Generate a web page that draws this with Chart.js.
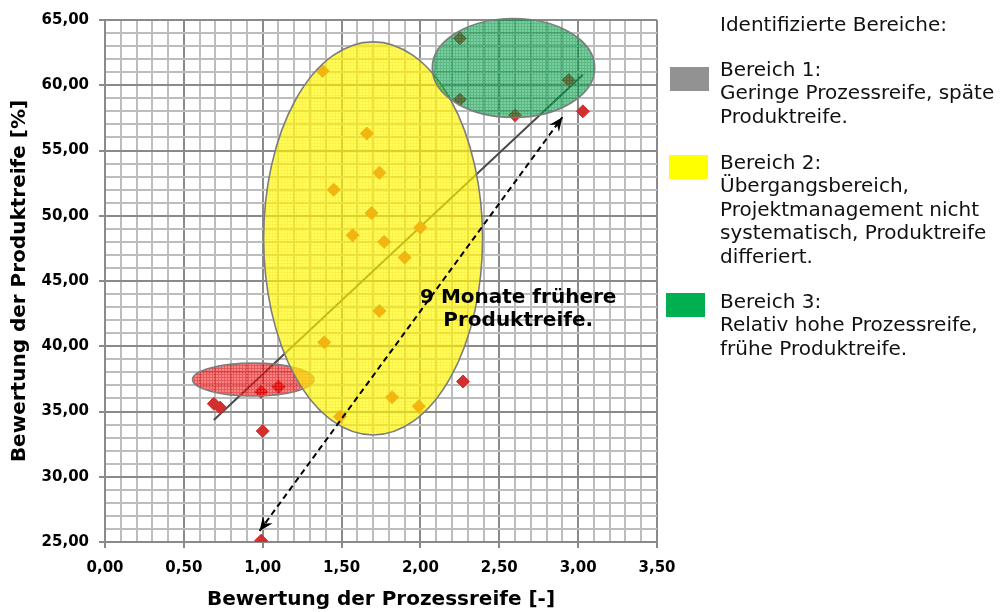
<!DOCTYPE html>
<html>
<head>
<meta charset="utf-8">
<title>Prozessreife vs. Produktreife</title>
<script src="https://cdn.jsdelivr.net/npm/chart.js@4.4.1/dist/chart.umd.min.js"></script>
<style>
  body { margin: 0; background: #fff; }
  #wrap { position: relative; width: 1003px; height: 612px; }
  .leg-text { position: absolute; left: 720px; font-family: 'DejaVu Sans', sans-serif; font-size: 20px; line-height: 23.4px; color: #111; white-space: nowrap; }
  .leg-box { position: absolute; }
</style>
</head>
<body>
<div id="wrap">
  <canvas id="chart" width="1003" height="612"></canvas>
</div>
<script>
// measured projects: process maturity (x) vs product maturity (y)
const prozessreife = [1.38, 1.66, 1.74, 1.45, 1.69, 1.57, 1.77, 2.00, 1.90, 1.74, 1.39, 2.27, 1.99, 1.82, 1.49,
                      1.10, 0.99, 0.69, 0.73, 1.00, 0.99, 2.25, 2.25, 2.60, 2.94, 3.03];
const produktreife = [61.1, 56.3, 53.3, 52.0, 50.2, 48.5, 48.0, 49.1, 46.8, 42.7, 40.3, 37.3, 35.4, 36.1, 34.6,
                      36.9, 36.5, 35.6, 35.3, 33.5, 25.1, 63.6, 58.9, 57.7, 60.4, 58.0];

// trend line and the "9 Monate" arrow (start, end)
const trendX = [0.69, 3.03];
const trendY = [34.35, 60.8];
const arrowX = [0.98, 2.90];
const arrowY = [25.85, 57.55];

// identified regions (ellipses): red, yellow, green
const ellipseCx = [0.94, 1.70, 2.59];
const ellipseCy = [37.45, 48.26, 61.32];
const ellipseRx = [0.385, 0.694, 0.515];
const ellipseRy = [1.26, 15.06, 3.79];

// axes
const xMajorTicks = [0, 0.5, 1, 1.5, 2, 2.5, 3, 3.5];
const xTickLabels = ['0,00', '0,50', '1,00', '1,50', '2,00', '2,50', '3,00', '3,50'];
const yMajorTicks = [25, 30, 35, 40, 45, 50, 55, 60, 65];
const yTickLabels = ['25,00', '30,00', '35,00', '40,00', '45,00', '50,00', '55,00', '60,00', '65,00'];
const xTitle = 'Bewertung der Prozessreife [-]';
const yTitle = 'Bewertung der Produktreife [%]';

// annotation
const noteLines = ['9 Monate frühere', 'Produktreife.'];
const noteX = 2.62;
const noteY = [43.7, 41.93];

// legend
const legendTitle = 'Identifizierte Bereiche:';
const legendColors = ['#929292', '#ffff00', '#00b050'];
const legendLines = [
  ['Bereich 1:', 'Geringe Prozessreife, späte', 'Produktreife.'],
  ['Bereich 2:', 'Übergangsbereich,', 'Projektmanagement nicht', 'systematisch, Produktreife', 'differiert.'],
  ['Bereich 3:', 'Relativ hohe Prozessreife,', 'frühe Produktreife.']
];
const legendBoxLeft = [670, 669, 666];
const legendBoxTop = [67, 155, 293];
const legendTextTop = [58, 151, 290];

const wrap = document.getElementById('wrap');
function addDiv(cls, style, html) {
  const d = document.createElement('div');
  d.className = cls;
  Object.assign(d.style, style);
  d.innerHTML = html;
  wrap.appendChild(d);
}
addDiv('leg-text', { top: '13px' }, legendTitle);
legendLines.forEach((lines, i) => {
  addDiv('leg-box', { left: legendBoxLeft[i] + 'px', top: legendBoxTop[i] + 'px', width: '39px', height: '24px', background: legendColors[i] }, '');
  addDiv('leg-text', { top: legendTextTop[i] + 'px' }, lines.join('<br>'));
});

const isTick = (list, v) => list.findIndex(t => Math.abs(t - v) < 1e-6);
const majorColor = '#8a8a8a';
const minorColor = '#bdbdbd';

const canvas = document.getElementById('chart');
const ctx = canvas.getContext('2d');

// fine cross-hatched fill like the original shapes
function hatch(base, line) {
  const c = document.createElement('canvas');
  c.width = 3; c.height = 3;
  const g = c.getContext('2d');
  g.fillStyle = base; g.fillRect(0, 0, 2, 2);
  g.fillStyle = line; g.fillRect(0, 2, 3, 1); g.fillRect(2, 0, 1, 2);
  return ctx.createPattern(c, 'repeat');
}
const ellipseFills = [
  hatch('rgba(255,50,50,0.6)', 'rgba(220,0,0,0.65)'),
  hatch('rgba(255,255,0,0.64)', 'rgba(255,235,0,0.72)'),
  hatch('rgba(20,180,90,0.6)', 'rgba(0,135,60,0.62)')
];

function arrowHead(c, tx, ty, fx, fy) {
  const a = Math.atan2(ty - fy, tx - fx);
  const L = 14, W = 6;
  const bx = tx - L * Math.cos(a), by = ty - L * Math.sin(a);
  c.beginPath();
  c.moveTo(tx, ty);
  c.lineTo(bx + W * Math.sin(a), by - W * Math.cos(a));
  c.lineTo(tx - 0.65 * L * Math.cos(a), ty - 0.65 * L * Math.sin(a));
  c.lineTo(bx - W * Math.sin(a), by + W * Math.cos(a));
  c.closePath();
  c.fill();
}

const overlay = {
  id: 'overlay',
  afterDatasetDraw(chart, args) {
    if (args.index !== 1) return; // right after the points, before the arrow
    const c = chart.ctx;
    const { x, y } = chart.scales;
    c.save();
    ellipseCx.forEach((cx, i) => {
      const px = x.getPixelForValue(cx);
      const py = y.getPixelForValue(ellipseCy[i]);
      const rx = x.getPixelForValue(cx + ellipseRx[i]) - px;
      const ry = py - y.getPixelForValue(ellipseCy[i] + ellipseRy[i]);
      c.beginPath();
      c.ellipse(px, py, rx, ry, 0, 0, Math.PI * 2);
      c.fillStyle = ellipseFills[i];
      c.fill();
      c.lineWidth = 1.6;
      c.strokeStyle = '#7d7d7d';
      c.stroke();
    });
    c.font = 'bold 20px "DejaVu Sans"';
    c.fillStyle = '#000';
    c.textAlign = 'center';
    c.textBaseline = 'middle';
    noteLines.forEach((t, i) => c.fillText(t, x.getPixelForValue(noteX), y.getPixelForValue(noteY[i])));
    c.restore();
  },
  afterDatasetsDraw(chart) {
    const c = chart.ctx;
    const { x, y } = chart.scales;
    const p0 = [x.getPixelForValue(arrowX[0]), y.getPixelForValue(arrowY[0])];
    const p1 = [x.getPixelForValue(arrowX[1]), y.getPixelForValue(arrowY[1])];
    c.save();
    c.fillStyle = '#000';
    arrowHead(c, p0[0], p0[1], p1[0], p1[1]);
    arrowHead(c, p1[0], p1[1], p0[0], p0[1]);
    c.restore();
  }
};

const tickFont = { family: 'DejaVu Sans', weight: 'bold', size: 15 };
const titleFont = { family: 'DejaVu Sans', weight: 'bold', size: 20 };

new Chart(ctx, {
  type: 'scatter',
  data: {
    datasets: [
      {
        label: 'Pfeil',
        data: arrowX.map((v, i) => ({ x: v, y: arrowY[i] })),
        showLine: true,
        borderColor: '#000',
        borderWidth: 2,
        borderDash: [6, 4],
        pointRadius: 0
      },
      {
        label: 'Projekte',
        data: prozessreife.map((v, i) => ({ x: v, y: produktreife[i] })),
        pointStyle: 'rectRot',
        pointRadius: 6.5,
        backgroundColor: '#d32f2f',
        borderColor: '#d32f2f',
        borderWidth: 1
      },
      {
        label: 'Trend',
        data: trendX.map((v, i) => ({ x: v, y: trendY[i] })),
        showLine: true,
        borderColor: '#4a4a4a',
        borderWidth: 2,
        pointRadius: 0
      }
    ]
  },
  plugins: [overlay],
  options: {
    responsive: false,
    animation: false,
    layout: { padding: { top: 20, right: 346, left: 0, bottom: 0 } },
    plugins: { legend: { display: false }, tooltip: { enabled: false } },
    scales: {
      x: {
        type: 'linear',
        min: 0,
        max: 3.5,
        afterFit: s => { s.height = 70; },
        ticks: {
          stepSize: 0.1,
          autoSkip: false,
          maxRotation: 0,
          padding: 11,
          color: '#000',
          font: tickFont,
          callback: v => { const i = isTick(xMajorTicks, v); return i >= 0 ? xTickLabels[i] : ''; }
        },
        grid: {
          color: c => isTick(xMajorTicks, c.tick.value) >= 0 ? majorColor : minorColor,
          tickColor: c => isTick(xMajorTicks, c.tick.value) >= 0 ? majorColor : 'rgba(0,0,0,0)',
          lineWidth: 2,
          tickLength: 6
        },
        border: { color: majorColor, width: 2 },
        title: { display: true, text: xTitle, color: '#000', font: titleFont, padding: { top: 0, bottom: 0 } }
      },
      y: {
        type: 'linear',
        min: 25,
        max: 65,
        afterFit: s => { s.width = 105; },
        ticks: {
          stepSize: 1,
          autoSkip: false,
          padding: 10,
          color: '#000',
          font: tickFont,
          callback: v => { const i = isTick(yMajorTicks, v); return i >= 0 ? yTickLabels[i] : ''; }
        },
        grid: {
          color: c => isTick(yMajorTicks, c.tick.value) >= 0 ? majorColor : minorColor,
          tickColor: c => isTick(yMajorTicks, c.tick.value) >= 0 ? majorColor : 'rgba(0,0,0,0)',
          lineWidth: 2,
          tickLength: 6
        },
        border: { color: majorColor, width: 2 },
        title: { display: true, text: yTitle, color: '#000', font: titleFont, padding: { top: 8, bottom: 0 } }
      }
    }
  }
});
</script>
</body>
</html>
